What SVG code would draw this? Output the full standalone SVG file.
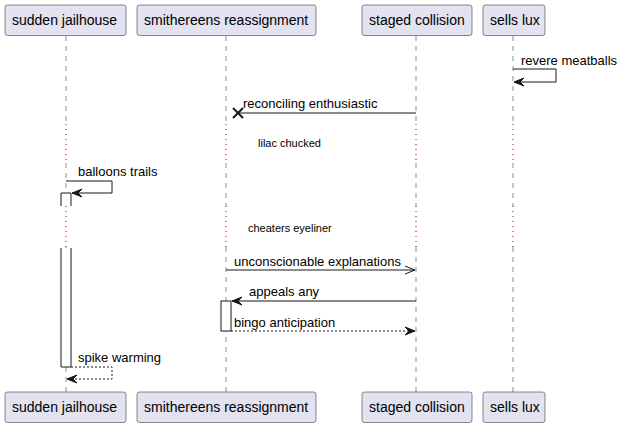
<svg xmlns="http://www.w3.org/2000/svg" width="621" height="428" viewBox="0 0 621 428">
<style>
.box{fill:#E2E2F0;stroke:#181818;stroke-width:0.5}
.pt{font-family:"Liberation Sans",Arial,sans-serif;font-size:14px;fill:#000}
.mt{font-family:"Liberation Sans",Arial,sans-serif;font-size:13px;fill:#000}
.dt{font-family:"Liberation Sans",Arial,sans-serif;font-size:11px;fill:#000}
.life{stroke:#181818;stroke-width:0.5;stroke-dasharray:5,5;fill:none}
.delay{stroke:#A80036;stroke-width:1;stroke-dasharray:1,4;fill:none}
.msg{stroke:#181818;stroke-width:1;fill:none}
.ret{stroke:#181818;stroke-width:1;fill:none;stroke-dasharray:2,2}
.head{fill:#181818;stroke:#181818;stroke-width:1}
.act{fill:#FFFFFF;stroke:#181818;stroke-width:1}
</style>
<g id="lifelines">
<line class="life" x1="66" y1="36" x2="66" y2="124"/>
<line class="delay" x1="66" y1="124" x2="66" y2="163"/>
<line class="life" x1="66" y1="163" x2="66" y2="206"/>
<line class="delay" x1="66" y1="206" x2="66" y2="247"/>
<line class="life" x1="66" y1="247" x2="66" y2="392"/>
<line class="life" x1="226" y1="36" x2="226" y2="124"/>
<line class="delay" x1="226" y1="124" x2="226" y2="163"/>
<line class="life" x1="226" y1="163" x2="226" y2="206"/>
<line class="delay" x1="226" y1="206" x2="226" y2="247"/>
<line class="life" x1="226" y1="247" x2="226" y2="392"/>
<line class="life" x1="416" y1="36" x2="416" y2="124"/>
<line class="delay" x1="416" y1="124" x2="416" y2="163"/>
<line class="life" x1="416" y1="163" x2="416" y2="206"/>
<line class="delay" x1="416" y1="206" x2="416" y2="247"/>
<line class="life" x1="416" y1="247" x2="416" y2="392"/>
<line class="life" x1="513" y1="36" x2="513" y2="124"/>
<line class="delay" x1="513" y1="124" x2="513" y2="163"/>
<line class="life" x1="513" y1="163" x2="513" y2="206"/>
<line class="delay" x1="513" y1="206" x2="513" y2="247"/>
<line class="life" x1="513" y1="247" x2="513" y2="392"/>
</g>
<g id="activations">
<path class="act" d="M61,206 L61,193 L71,193 L71,206"/>
<path class="act" d="M61,248 L61,367 L71,367 L71,248"/>
<rect class="act" x="221" y="301" width="10" height="30"/>
</g>
<g id="p_sudden_jailhouse">
<rect class="box" x="5" y="5" width="121" height="30.5" rx="2.5"/>
<text class="pt" x="12" y="25">sudden jailhouse</text>
<rect class="box" x="5" y="392" width="121" height="30.5" rx="2.5"/>
<text class="pt" x="12" y="412">sudden jailhouse</text>
</g>
<g id="p_smithereens_reassignment">
<rect class="box" x="137" y="5" width="179" height="30.5" rx="2.5"/>
<text class="pt" x="144" y="25">smithereens reassignment</text>
<rect class="box" x="137" y="392" width="179" height="30.5" rx="2.5"/>
<text class="pt" x="144" y="412">smithereens reassignment</text>
</g>
<g id="p_staged_collision">
<rect class="box" x="362" y="5" width="110" height="30.5" rx="2.5"/>
<text class="pt" x="369" y="25">staged collision</text>
<rect class="box" x="362" y="392" width="110" height="30.5" rx="2.5"/>
<text class="pt" x="369" y="412">staged collision</text>
</g>
<g id="p_sells_lux">
<rect class="box" x="483" y="5" width="62" height="30.5" rx="2.5"/>
<text class="pt" x="490" y="25">sells lux</text>
<rect class="box" x="483" y="392" width="62" height="30.5" rx="2.5"/>
<text class="pt" x="490" y="412">sells lux</text>
</g>
<g id="connectors">
<polyline class="msg" points="513,69 556,69 556,82 514,82"/>
<polygon class="head" points="524,78 514,82 524,86 520,82"/>
<text class="mt" x="521" y="65">revere meatballs</text>
<line class="msg" x1="416" y1="113" x2="238" y2="113"/>
<line x1="233" y1="108" x2="243" y2="118" stroke="#181818" stroke-width="2"/>
<line x1="233" y1="118" x2="243" y2="108" stroke="#181818" stroke-width="2"/>
<text class="mt" x="243" y="108">reconciling enthusiastic</text>
<text class="dt" x="258" y="147">lilac chucked</text>
<polyline class="msg" points="66,181 112,181 112,193 72,193"/>
<polygon class="head" points="82,189 72,193 82,197 78,193"/>
<text class="mt" x="78" y="176">balloons trails</text>
<text class="dt" x="248" y="232">cheaters eyeliner</text>
<line class="msg" x1="226" y1="270" x2="415" y2="270"/>
<polyline class="msg" points="405,266 415,270 405,274"/>
<text class="mt" x="234" y="266">unconscionable explanations</text>
<line class="msg" x1="416" y1="301" x2="232" y2="301"/>
<polygon class="head" points="242,297 232,301 242,305 238,301"/>
<text class="mt" x="249" y="296">appeals any</text>
<line class="ret" x1="231" y1="331" x2="415" y2="331"/>
<polygon class="head" points="405,327 415,331 405,335 409,331"/>
<text class="mt" x="234" y="327">bingo anticipation</text>
<polyline class="ret" points="71,367 112,367 112,379 67,379"/>
<polygon class="head" points="77,375 67,379 77,383 73,379"/>
<text class="mt" x="78" y="362">spike warming</text>
</g>
</svg>
